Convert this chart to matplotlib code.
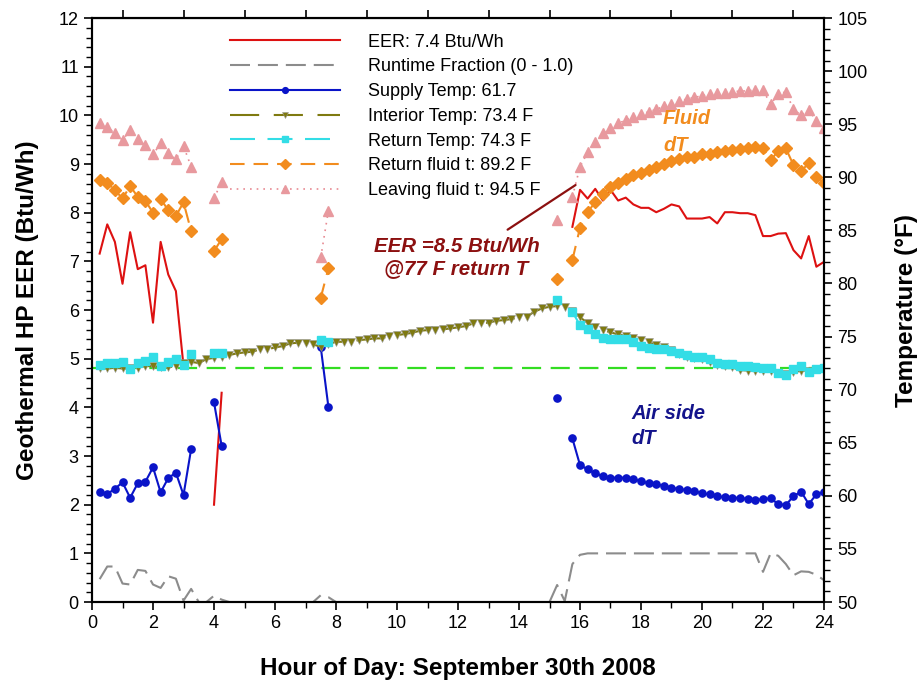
import numpy as np
import matplotlib.pyplot as plt
from matplotlib.ticker import MultipleLocator

plt.rcParams["font.family"] = ["Liberation Sans", "DejaVu Sans"]

nan = np.nan
N8 = [nan] * 8

# 15-minute samples, 0:15 .. 24:00
hours = np.arange(1, 97) * 0.25

eer = ([7.16, 7.76, 7.40, 6.54, 7.60, 6.84, 6.92, 5.74,
        7.40, 6.73, 6.39, 4.85, nan, nan, nan, 2.00,
        4.30] + [nan] * 7 + N8 * 4 +
       [nan, nan, nan, nan, nan, nan, 7.71, 8.47,
        8.29, 8.49, 8.25, 8.47, 8.25, 8.31, 8.17, 8.10,
        8.10, 8.01, 8.08, 8.17, 8.13, 7.88, 7.88, 7.88,
        7.91, 7.78, 8.01, 8.01, 7.99, 7.99, 7.95, 7.52,
        7.52, 7.57, 7.58, 7.23, 7.06, 7.52, 6.89, 6.99])

runtime = ([0.47, 0.73, 0.73, 0.38, 0.36, 0.66, 0.64, 0.36,
            0.29, 0.53, 0.48, 0.03, 0.27, 0.00, 0.00, 0.13,
            0.05, 0, 0, 0, 0, 0, 0, 0,
            0, 0, 0, 0, 0, 0.14, 0.10, 0] + [0] * 24 +
           [0, 0, 0, 0, 0.35, 0.02, 0.78, 0.97] + [1.0] * 16 +
           [1.0, 1.0, 1.0, 1.0, 1.0, 1.0, 1.0, 0.62,
            1.0, 0.95, 0.78, 0.55, 0.63, 0.62, 0.56, 0.45])

supply = ([60.33, 60.17, 60.67, 61.27, 59.82, 61.18, 61.33, 62.68,
           60.33, 61.68, 62.18, 60.08, 64.41, nan, nan, 68.80,
           64.72] + [nan] * 7 +
          [nan, nan, nan, nan, nan, 74.00, 68.39, nan] + N8 * 3 +
          [nan, nan, nan, nan, 69.24, nan, 65.41, 62.90,
           62.50, 62.12, 61.86, 61.71, 61.71, 61.71, 61.55, 61.39,
           61.18, 61.08, 60.95, 60.76, 60.64, 60.55, 60.45, 60.24,
           60.14, 59.98, 59.86, 59.82, 59.82, 59.70, 59.60, 59.70,
           59.76, 59.23, 59.13, 59.98, 60.39, 59.23, 60.14, 60.39])

interior = [72.00, 72.00, 72.05, 72.00, 72.00, 72.00, 72.22, 72.22,
            72.15, 72.10, 72.22, 72.47, 72.63, 72.50, 72.88, 73.00,
            73.05, 73.26, 73.42, 73.51, 73.57, 73.79, 73.79, 73.98,
            74.10, 74.36, 74.42, 74.36, 74.26, 74.04, 74.29, 74.51,
            74.51, 74.51, 74.67, 74.73, 74.83, 74.83, 75.05, 75.14,
            75.24, 75.36, 75.55, 75.61, 75.61, 75.68, 75.77, 75.87,
            75.99, 76.24, 76.30, 76.30, 76.49, 76.55, 76.65, 76.81,
            76.86, 77.34, 77.65, 77.81, 77.87, 77.81, 77.45, 76.81,
            76.30, 75.87, 75.61, 75.40, 75.20, 75.05, 74.90, 74.65,
            74.45, 74.25, 74.00, 73.75, 73.40, 73.10, 72.95, 72.85,
            72.60, 72.35, 72.20, 72.10, 71.85, 71.80, 71.80, 71.80,
            71.75, 71.60, 71.50, 71.70, 71.75, 71.80, 71.90, 72.00]

return_temp = ([72.32, 72.48, 72.48, 72.60, 71.94, 72.48, 72.72, 73.04,
                72.22, 72.63, 72.88, 72.32, 73.32, nan, nan, 73.42,
                73.42] + [nan] * 7 +
               [nan, nan, nan, nan, nan, 74.67, 74.45, nan] + N8 * 3 +
               [nan, nan, nan, nan, 78.44, nan, 77.33, 76.08,
                75.68, 75.24, 74.89, 74.76, 74.76, 74.76, 74.51, 74.10,
                73.89, 73.79, 73.79, 73.67, 73.42, 73.26, 73.10, 73.04,
                72.85, 72.47, 72.38, 72.38, 72.25, 72.25, 72.16, 72.00,
                72.00, 71.53, 71.37, 71.91, 72.22, 71.69, 71.91, 72.00])

return_fluid = ([89.74, 89.48, 88.79, 88.01, 89.17, 88.16, 87.79, 86.66,
                 87.95, 86.91, 86.35, 87.64, 84.94, nan, nan, 83.05,
                 84.18] + [nan] * 7 +
                [nan, nan, nan, nan, nan, 78.66, 81.42, nan] + N8 * 3 +
                [nan, nan, nan, nan, 80.41, nan, 82.20, 85.25,
                 86.69, 87.69, 88.39, 89.11, 89.48, 89.80, 90.21, 90.43,
                 90.68, 90.99, 91.27, 91.50, 91.69, 91.87, 91.93, 92.19,
                 92.19, 92.35, 92.47, 92.56, 92.66, 92.78, 92.87, 92.72,
                 91.62, 92.47, 92.72, 91.15, 90.61, 91.31, 90.05, 89.43])

leaving_fluid = ([95.13, 94.76, 94.13, 93.50, 94.44, 93.57, 93.03, 92.16,
                  93.19, 92.25, 91.69, 92.94, 91.00, nan, nan, 88.01,
                  89.58] + [nan] * 7 +
                 [nan, nan, nan, nan, nan, 82.46, 86.85, nan] + N8 * 3 +
                 [nan, nan, nan, nan, 85.97, nan, 88.16, 90.99,
                  92.35, 93.35, 94.13, 94.60, 95.07, 95.39, 95.70, 95.95,
                  96.17, 96.39, 96.70, 96.95, 97.20, 97.36, 97.52, 97.68,
                  97.83, 97.90, 97.96, 98.05, 98.12, 98.15, 98.21, 98.21,
                  96.89, 97.83, 98.05, 96.39, 95.86, 96.33, 95.33, 94.60])

eer_reference = 4.8

labels = ["EER: 7.4 Btu/Wh", "Runtime Fraction (0 - 1.0)", "Supply Temp: 61.7",
          "Interior Temp: 73.4 F", "Return Temp: 74.3 F",
          "Return fluid t: 89.2 F", "Leaving fluid t: 94.5 F"]

fig = plt.figure(figsize=(9.22, 6.86), dpi=100)
ax = fig.add_axes([0.0998, 0.1224, 0.7939, 0.8513])
ax2 = ax.twinx()

h_eer, = ax.plot(hours, eer, color="#dd1111", lw=1.5, label=labels[0])
h_run, = ax.plot(hours, runtime, color="#8c8c8c", lw=1.5,
                 ls=(0, (9.6, 3.8)), label=labels[1])
ax.axhline(eer_reference, color="#33dd22", lw=1.6, ls=(0, (8.6, 4.3)))

h_sup, = ax2.plot(hours, supply, color="#0a14c8", lw=1.5, marker="o", ms=5.2,
                  label=labels[2])
h_int, = ax2.plot(hours, interior, color="#7f7a10", lw=1.5, ls=(0, (14, 7)),
                  marker="v", ms=6, mec="#9a9a9a", mew=0.4, label=labels[3])
h_ret, = ax2.plot(hours, return_temp, color="#33dde6", lw=1.5, ls=(0, (12, 6)),
                  marker="s", ms=6, label=labels[4])
h_rfl, = ax2.plot(hours, return_fluid, color="#f28c1e", lw=1.5, ls=(0, (7, 4.3)),
                  marker="D", ms=6.5, label=labels[5])
h_lfl, = ax2.plot(hours, leaving_fluid, color="#e88a92", lw=1.2, ls=(0, (1, 3)),
                  marker="^", ms=7, mfc="#e8999e", mec="#e8999e", label=labels[6])

ax.set_xlim(0, 24)
ax.set_ylim(0, 12)
ax2.set_ylim(50, 105)

ax.xaxis.set_major_locator(MultipleLocator(2))
ax.xaxis.set_minor_locator(MultipleLocator(1))
ax.yaxis.set_major_locator(MultipleLocator(1))
ax.yaxis.set_minor_locator(MultipleLocator(0.2))
ax2.yaxis.set_major_locator(MultipleLocator(5))
ax2.yaxis.set_minor_locator(MultipleLocator(1))

for a in (ax, ax2):
    a.tick_params(which="major", length=6, width=1.2, labelsize=13, direction="out")
    a.tick_params(which="minor", length=4, width=1.0, direction="out")
    for s in a.spines.values():
        s.set_linewidth(1.5)

top = ax.secondary_xaxis("top")
top.set_xticks(np.arange(1, 24, 2))
top.tick_params(length=6, width=1.2, labeltop=False)

ax.set_xlabel("Hour of Day: September 30th 2008", fontsize=17.5, fontweight="bold",
              labelpad=18)
ax.set_ylabel("Geothermal HP EER (Btu/Wh)", fontsize=17.5, fontweight="bold",
              labelpad=14)
ax2.set_ylabel("Temperature (°F)", fontsize=17.5, fontweight="bold", labelpad=20)

# notes drawn on the top axes so they sit above the markers, in EER units
ax2.annotate("", xy=(15.93, 8.6), xytext=(13.55, 7.62), xycoords=ax.transData,
             textcoords=ax.transData,
             arrowprops=dict(arrowstyle="-", color="#8c1010", lw=1.6))
ax2.text(11.95, 7.08, "EER =8.5 Btu/Wh\n@77 F return T", transform=ax.transData,
         color="#8c1010", fontsize=14.8, fontweight="bold", style="italic",
         ha="center", va="center", linespacing=1.2)
ax2.text(18.72, 9.66, "Fluid\ndT", transform=ax.transData, color="#f28c1e",
         fontsize=14.5, fontweight="bold", style="italic", ha="left", va="center",
         linespacing=1.5)
ax2.text(17.7, 3.61, "Air side\ndT", transform=ax.transData, color="#14148c",
         fontsize=14.5, fontweight="bold", style="italic", ha="left", va="center",
         linespacing=1.4)

handles = [h_eer, h_run, h_sup, h_int, h_ret, h_rfl, h_lfl]
fig.legend(handles, labels, loc="upper left", bbox_to_anchor=(0.2495, 0.951),
           frameon=False, fontsize=13, handlelength=6.1, handletextpad=1.55,
           labelspacing=0.43, borderpad=0, borderaxespad=0, markerscale=0.8)

fig.savefig("out.png", dpi=100)
